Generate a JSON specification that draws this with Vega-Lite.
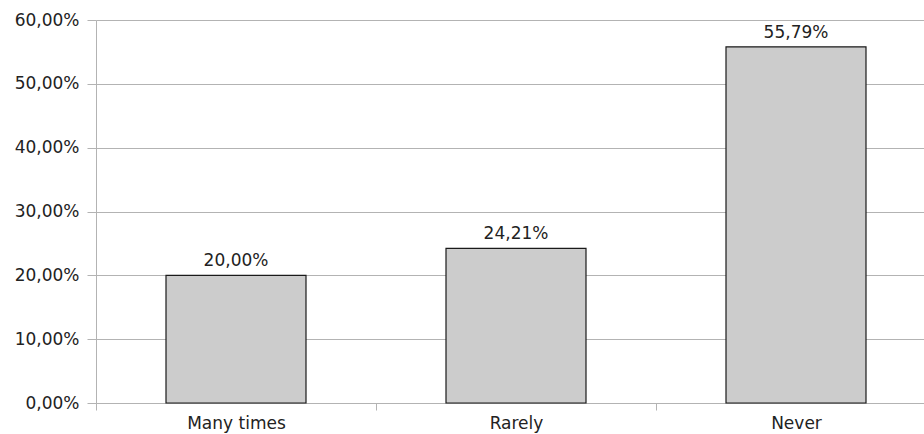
{
  "$schema": "https://vega.github.io/schema/vega-lite/v6.json",
  "autosize": {"type": "none"},
  "padding": {"left": 96, "top": 20, "right": 0, "bottom": 31},
  "width": 828,
  "height": 383,
  "config": {
    "locale": {"number": {"decimal": ",", "thousands": ".", "grouping": [3], "currency": ["", " €"]}},
    "view": {"stroke": null},
    "font": "DejaVu Sans"
  },
  "data": {
    "values": [
      {"answer": "Many times", "share": 0.2},
      {"answer": "Rarely", "share": 0.2421},
      {"answer": "Never", "share": 0.5579}
    ]
  },
  "encoding": {
    "x": {
      "field": "answer",
      "type": "nominal",
      "sort": null,
      "scale": {"range": [0, 840], "paddingInner": 0, "paddingOuter": 0},
      "axis": {
        "title": null,
        "labelAngle": 0,
        "labelFontSize": 17,
        "labelColor": "#222222",
        "labelPadding": 5,
        "tickBand": "extent",
        "tickSize": 7,
        "tickColor": "#b3b3b3",
        "domainColor": "#b3b3b3",
        "grid": false
      }
    },
    "y": {
      "field": "share",
      "type": "quantitative",
      "scale": {"domain": [0, 0.6], "nice": false},
      "axis": {
        "title": null,
        "values": [0, 0.1, 0.2, 0.3, 0.4, 0.5, 0.6],
        "format": ".2%",
        "labelFontSize": 17,
        "labelColor": "#222222",
        "labelPadding": 8,
        "tickSize": 9,
        "tickColor": "#b3b3b3",
        "domainColor": "#b3b3b3",
        "grid": true,
        "gridColor": "#b3b3b3"
      }
    }
  },
  "layer": [
    {"mark": {"type": "bar", "width": {"band": 0.5}, "fill": "#cccccc", "stroke": "#1a1a1a", "strokeWidth": 1.2}},
    {
      "mark": {"type": "text", "dy": -5, "baseline": "bottom", "fontSize": 17, "color": "#222222"},
      "encoding": {"text": {"field": "share", "type": "quantitative", "format": ".2%"}}
    }
  ]
}
